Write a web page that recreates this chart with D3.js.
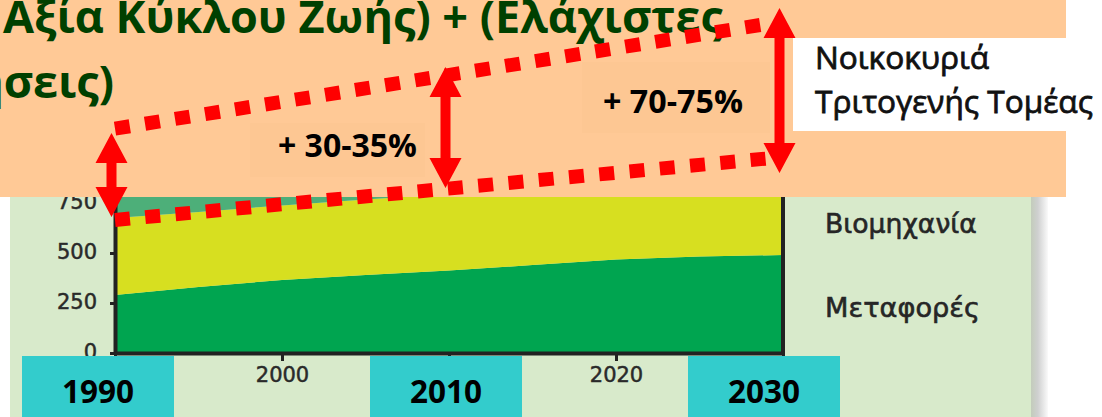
<!DOCTYPE html>
<html>
<head>
<meta charset="utf-8">
<script src="https://cdn.jsdelivr.net/npm/d3@7"></script>
<style>
  html, body { margin: 0; padding: 0; background: #ffffff; }
  svg { display: block; }
</style>
</head>
<body>
<svg id="chart" width="1102" height="417"></svg>
<script>
// Energy consumption by sector (stacked), 1990–2030
const years = [1990, 1995, 2000, 2005, 2010, 2015, 2020, 2025, 2030];
const transport  = [290, 330, 365, 390, 412, 440, 468, 482, 490];
const industry   = [385, 375, 373, 378, 383, 382, 382, 393, 410];
const households = [320, 335, 350, 365, 380, 395, 410, 425, 440];

const seriesKeys   = ["transport", "industry", "households"];
const seriesLabels = ["Μεταφορές", "Βιομηχανία", "Νοικοκυριά", "Τριτογενής Τομέας"];

const yTicks = [0, 250, 500, 750];
const xTicks = [1990, 2000, 2010, 2020, 2030];

// Projected demand trends (dashed) and growth arrows
const trendYears = [1990, 2029];
const lowerTrend = [665, 972];
const upperTrend = [1122, 1645];

const arrowYears = [1990, 2010, 2030];
const arrowLow   = [680, 825, 900];
const arrowHigh  = [1100, 1430, 1725];

const growthLabels = ["+ 30-35%", "+ 70-75%"];
const boxedYears   = [1990, 2010, 2030];

const titleLine1 = "Αξία Κύκλου Ζωής) + (Ελάχιστες";
const titleLine2 = "ησεις)";

// ---------------------------------------------------------------
const svg = d3.select("#chart");
const W = 1102, H = 417;

const COL = {
  panel: "#d8eacb",
  band: "#ffc996",
  bandBox: "#fdc793",
  transport: "#00a550",
  industry: "#d7df20",
  households: "#4daf79",
  axis: "#222222",
  red: "#ff0000",
  cyan: "#33cccc",
  title: "#004000"
};

const x = d3.scaleLinear().domain([1990, 2030]).range([115, 783]);
const y = d3.scaleLinear().domain([0, 750]).range([353, 203]);

// scale a text's font-size so that it spans the given width
function fit(sel, width) {
  const len = sel.node().getComputedTextLength();
  const fs = parseFloat(sel.attr("font-size"));
  sel.attr("font-size", fs * width / len);
  return fs * width / len;
}

// background panel with a soft shadow on its right edge
const defs = svg.append("defs");
const sh = defs.append("linearGradient").attr("id", "shadow").attr("x1", 0).attr("x2", 1);
sh.append("stop").attr("offset", 0).attr("stop-color", "#c3ccbb");
sh.append("stop").attr("offset", 0.4).attr("stop-color", "#cfd0d0");
sh.append("stop").attr("offset", 1).attr("stop-color", "#fafafa");

svg.append("rect").attr("x", 10).attr("y", 0).attr("width", 1021).attr("height", H).attr("fill", COL.panel);
svg.append("rect").attr("x", 1031).attr("y", 0).attr("width", 17).attr("height", H).attr("fill", "url(#shadow)");

// stacked areas
const table = years.map((yr, i) => ({ year: yr, transport: transport[i], industry: industry[i], households: households[i] }));
const stacked = d3.stack().keys(seriesKeys)(table);
const area = d3.area()
  .x(d => x(d.data.year))
  .y0(d => y(d[0]))
  .y1(d => y(d[1]));

svg.append("g").selectAll("path")
  .data(stacked)
  .join("path")
  .attr("d", area)
  .attr("fill", d => COL[d.key]);

// plot frame on the right
svg.append("line")
  .attr("x1", x(2030)).attr("x2", x(2030))
  .attr("y1", y(0)).attr("y2", y(1000))
  .attr("stroke", COL.axis).attr("stroke-width", 4);

// axes (years that get a highlighted box are labelled separately)
const yAxis = svg.append("g")
  .attr("transform", `translate(${x(1990)},0)`)
  .call(d3.axisLeft(y).tickValues(yTicks).tickSizeInner(5).tickSizeOuter(0).tickPadding(13));
const xAxis = svg.append("g")
  .attr("transform", `translate(0,${y(0)})`)
  .call(d3.axisBottom(x).tickValues(xTicks)
    .tickFormat(d => boxedYears.includes(d) ? "" : d3.format("d")(d))
    .tickSizeInner(8).tickSizeOuter(0).tickPadding(6));

[yAxis, xAxis].forEach(g => {
  g.select(".domain").attr("stroke", COL.axis).attr("stroke-width", 4);
  g.selectAll(".tick line").attr("stroke", COL.axis).attr("stroke-width", 3);
  g.selectAll(".tick text")
    .attr("font-family", "DejaVu Sans")
    .attr("font-size", 21)
    .attr("fill", "#2a2a2a")
    .attr("stroke", "#2a2a2a").attr("stroke-width", 0.5);
});
yAxis.selectAll(".tick text").attr("dy", "0.25em");

// legend labels for the visible layers
const legend = svg.append("g")
  .attr("font-family", "DejaVu Sans")
  .attr("fill", "#262626")
  .attr("stroke", "#262626").attr("stroke-width", 0.6);
[[seriesLabels[1], 233, 152], [seriesLabels[0], 317, 155]].forEach(([t, by, w]) => {
  const el = legend.append("text").attr("x", 825).attr("y", by).attr("font-size", 22).text(t);
  fit(el, w);
});

// title band
svg.append("rect").attr("x", 0).attr("y", 0).attr("width", 1066).attr("height", 197).attr("fill", COL.band);

const t1 = svg.append("text")
  .attr("x", 3).attr("y", 33)
  .attr("font-family", "Open Sans").attr("font-weight", "bold")
  .attr("font-size", 40).attr("fill", COL.title)
  .text(titleLine1);
const titleSize = fit(t1, 720);
svg.append("text")
  .attr("x", 114).attr("y", 98).attr("text-anchor", "end")
  .attr("font-family", "Open Sans").attr("font-weight", "bold")
  .attr("font-size", titleSize).attr("fill", COL.title)
  .text(titleLine2);

// legend box for the top layer
svg.append("rect").attr("x", 793).attr("y", 38).attr("width", W - 793).attr("height", 93).attr("fill", "#ffffff");
const l2 = svg.append("text")
  .attr("x", 815).attr("y", 113)
  .attr("font-family", "Open Sans")
  .attr("font-size", 26).attr("fill", "#111111")
  .attr("stroke", "#111111").attr("stroke-width", 0.8)
  .text(seriesLabels[3]);
const boxFont = fit(l2, 278);
svg.append("text")
  .attr("x", 815).attr("y", 69)
  .attr("font-family", "Open Sans")
  .attr("font-size", boxFont).attr("fill", "#111111")
  .attr("stroke", "#111111").attr("stroke-width", 0.8)
  .text(seriesLabels[2]);

// growth labels with their boxes
const growthBoxes = [[250, 123, 175, 54], [582, 62, 188, 71]];
const growthPos = [[278, 157, 139], [603, 113, 140]];
growthLabels.forEach((t, i) => {
  const b = growthBoxes[i];
  svg.append("rect").attr("x", b[0]).attr("y", b[1]).attr("width", b[2]).attr("height", b[3]).attr("fill", COL.bandBox);
  const el = svg.append("text")
    .attr("x", growthPos[i][0]).attr("y", growthPos[i][1])
    .attr("font-family", "Open Sans").attr("font-weight", "bold")
    .attr("font-size", 28).attr("fill", "#000000")
    .text(t);
  fit(el, growthPos[i][2]);
});

// dashed trend lines
const trendLine = d3.line().x(d => x(d[0])).y(d => y(d[1]));
[lowerTrend, upperTrend].forEach(vals => {
  svg.append("path")
    .attr("d", trendLine(trendYears.map((yr, i) => [yr, vals[i]])))
    .attr("fill", "none")
    .attr("stroke", COL.red)
    .attr("stroke-width", 14)
    .attr("stroke-dasharray", "15 15.4");
});

// double-headed growth arrows
function arrowPath(cx, yTop, yBot) {
  const sw = 5, hw = 16, hl = 30;
  return [
    [cx, yTop], [cx + hw, yTop + hl], [cx + sw, yTop + hl],
    [cx + sw, yBot - hl], [cx + hw, yBot - hl], [cx, yBot],
    [cx - hw, yBot - hl], [cx - sw, yBot - hl], [cx - sw, yTop + hl],
    [cx - hw, yTop + hl]
  ].map(p => p.join(",")).join(" ");
}
svg.append("g").selectAll("polygon")
  .data(arrowYears)
  .join("polygon")
  .attr("points", (yr, i) => arrowPath(x(yr) - 3.5, y(arrowHigh[i]), y(arrowLow[i])))
  .attr("fill", COL.red);

// year boxes along the bottom
const boxCenters = [98, 446, 764];
boxedYears.forEach((yr, i) => {
  svg.append("rect")
    .attr("x", boxCenters[i] - 76).attr("y", 356)
    .attr("width", 152).attr("height", H - 356)
    .attr("fill", COL.cyan);
  const el = svg.append("text")
    .attr("x", boxCenters[i]).attr("y", 403)
    .attr("text-anchor", "middle")
    .attr("font-family", "Open Sans").attr("font-weight", "bold")
    .attr("font-size", 30).attr("fill", "#000000")
    .text(String(yr));
  fit(el, 72);
});
</script>
</body>
</html>
